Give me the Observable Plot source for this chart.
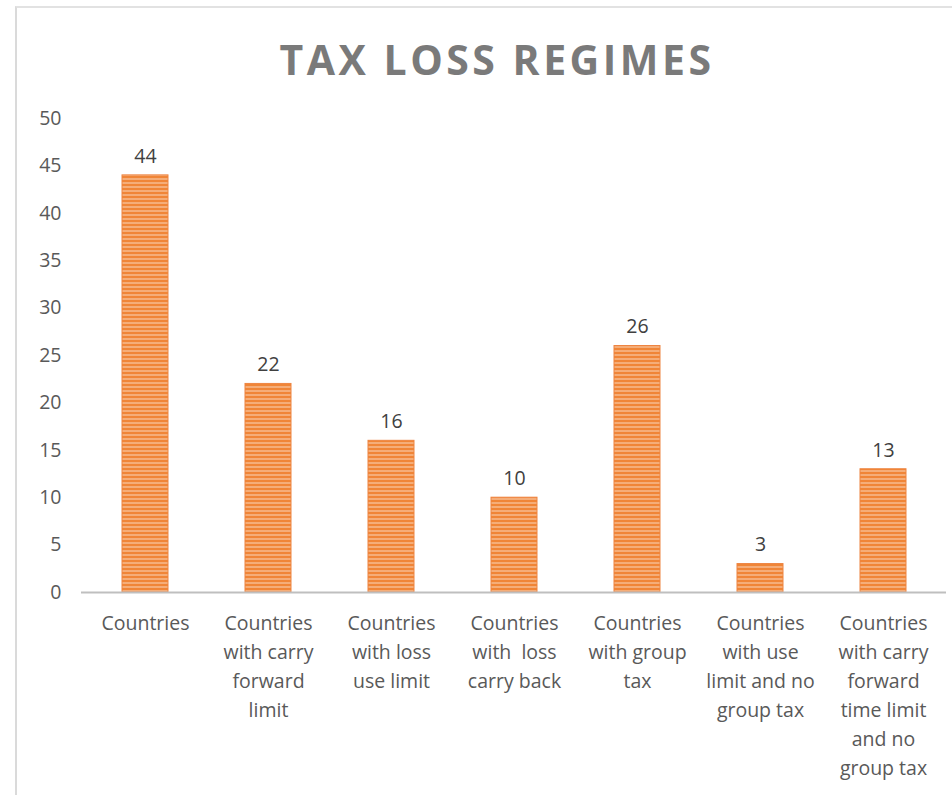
<!DOCTYPE html>
<html>
<head>
<meta charset="utf-8">
<script src="https://cdn.jsdelivr.net/npm/d3@7"></script>
<script src="https://cdn.jsdelivr.net/npm/@observablehq/plot@0.6"></script>
<style>
  html, body { margin: 0; padding: 0; background: #fff; }
  #wrap { position: relative; width: 952px; height: 795px; overflow: hidden; }
  #frame { position: absolute; left: 15px; top: 6px; width: 960px; height: 800px;
           border-left: 2px solid #dadada; border-top: 2px solid #e2e2e2; }
  #chart { position: absolute; left: 0; top: 0; }
</style>
</head>
<body>
<div id="wrap"><div id="frame"></div><div id="chart"></div></div>
<script>
const title = "TAX LOSS REGIMES";
const categories = [
  "Countries",
  "Countries\nwith carry\nforward\nlimit",
  "Countries\nwith loss\nuse limit",
  "Countries\nwith  loss\ncarry back",
  "Countries\nwith group\ntax",
  "Countries\nwith use\nlimit and no\ngroup tax",
  "Countries\nwith carry\nforward\ntime limit\nand no\ngroup tax"
];
const values = [44, 22, 16, 10, 26, 3, 13];
const yTicks = [0, 5, 10, 15, 20, 25, 30, 35, 40, 45, 50];

const data = categories.map((c, i) => ({category: c, value: values[i]}));

const font = "'Open Sans', 'DejaVu Sans', sans-serif";

const plot = Plot.plot({
  width: 952,
  height: 795,
  marginLeft: 81,
  marginRight: 6,
  marginTop: 118,
  marginBottom: 203,
  style: {fontFamily: font, background: "transparent", color: "#595959"},
  x: {domain: categories, paddingInner: 0.63, paddingOuter: 0.315, label: null},
  y: {domain: [0, 50], label: null},
  marks: [
    Plot.axisY({ticks: yTicks, tickSize: 0, tickPadding: 20, fontSize: 19.5, fill: "#595959", label: null}),
    Plot.axisX({tickSize: 0, tickPadding: 17, fontSize: 19.5, lineHeight: 1.49, fill: "#595959", label: null}),
    Plot.barY(data, {x: "category", y: "value", fill: "url(#stripes)", stroke: "#EE8440", strokeWidth: 1}),
    Plot.ruleY([0], {stroke: "#bfbfbf", strokeWidth: 2}),
    Plot.text(data, {x: "category", y: "value", text: d => String(d.value), dy: -19, fontSize: 19.5, fill: "#404040"}),
    Plot.text([title], {frameAnchor: "top", dy: -73, dx: -17, fontSize: 41, fontWeight: "bold", fill: "#7a7a7a",
      text: d => d})
  ]
});

// stripes pattern for bars
const svg = d3.select(plot);
const defs = svg.insert("defs", ":first-child");
const pat = defs.append("pattern").attr("id", "stripes").attr("patternUnits", "userSpaceOnUse")
  .attr("width", 8).attr("height", 4);
pat.append("rect").attr("width", 8).attr("height", 4).attr("fill", "#F08537");
pat.append("rect").attr("y", 2.3).attr("width", 8).attr("height", 1.4).attr("fill", "#F8BE94");
// title letter spacing
svg.selectAll("text").filter(function() { return this.textContent === title; })
  .style("letter-spacing", "3.5px");

document.getElementById("chart").appendChild(plot);
</script>
</body>
</html>
